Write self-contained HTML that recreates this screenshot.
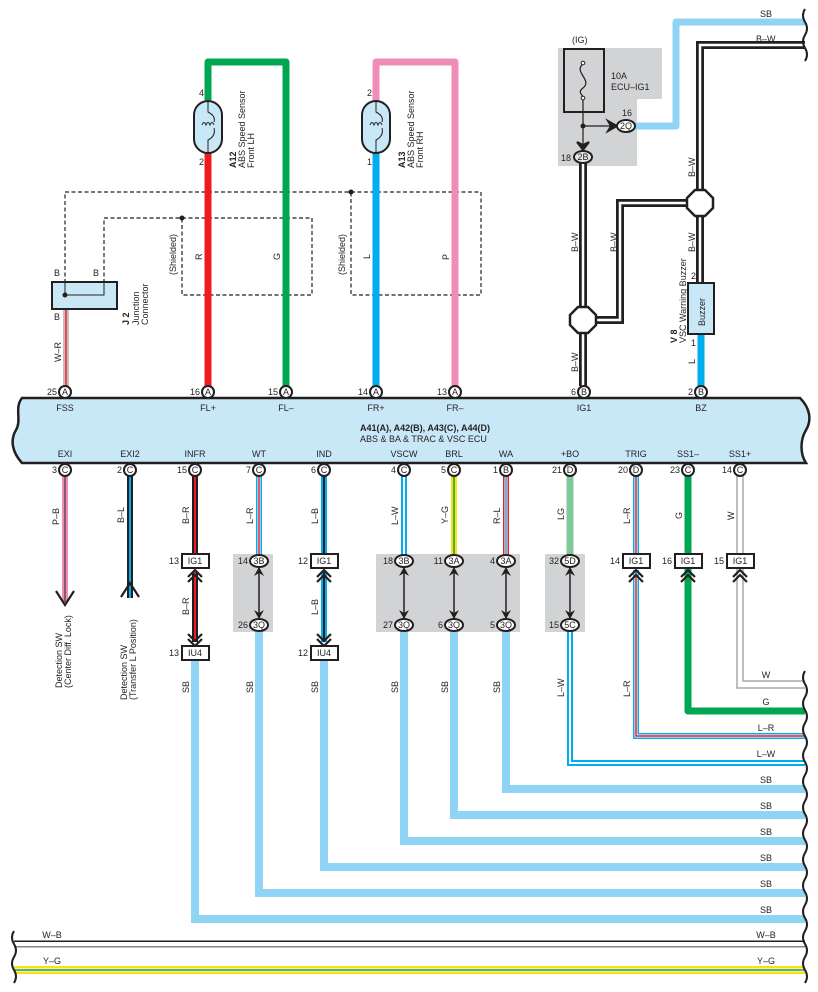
<!DOCTYPE html>
<html><head><meta charset="utf-8"><style>
html,body{margin:0;padding:0;background:#fff;}
svg{display:block;font-family:"Liberation Sans",sans-serif;}
text{font-size:9px;fill:#231f20;}
</style></head><body>
<svg width="818" height="992" viewBox="0 0 818 992" xmlns="http://www.w3.org/2000/svg">
<defs>
<path id="grn" d="M286 392 V62 H208 V100" fill="none"/>
<path id="pnk" d="M455 392 V62 H376 V100" fill="none"/>
<path id="sbTop" d="M634 126 H676 V22 H805" fill="none"/>
<path id="bwTop" d="M700 190 V45 H805" fill="none"/>
<path id="bwA" d="M583 163 V386" fill="none"/>
<path id="bwB" d="M595 320 H620 V203 H688" fill="none"/>
<path id="bwC" d="M700 214 V282" fill="none"/>
<path id="wr" d="M66 309 V386" fill="none"/>
<path id="exi" d="M65 476 V602" fill="none"/>
<path id="exi2" d="M130 476 V598" fill="none"/>
<path id="infr1" d="M195 476 V554" fill="none"/>
<path id="infr2" d="M195 572 V642" fill="none"/>
<path id="wt1" d="M259 476 V555" fill="none"/>
<path id="ind1" d="M324 476 V554" fill="none"/>
<path id="ind2" d="M324 572 V642" fill="none"/>
<path id="vscw1" d="M404 476 V555" fill="none"/>
<path id="brl1" d="M454 476 V555" fill="none"/>
<path id="wa1" d="M506 476 V555" fill="none"/>
<path id="bo2" d="M570 630 V763 H805" fill="none"/>
<path id="trig1" d="M636 476 V554" fill="none"/>
<path id="trig2" d="M636 570 V736 H805" fill="none"/>
<path id="wb" d="M14 944 H805" fill="none"/>
<path id="yg" d="M14 970 H805" fill="none"/>
</defs>

<path d="M558 48 H662 V99 H637 V166 H558 Z" fill="#d1d3d4"/>
<rect x="233" y="554" width="40" height="78" fill="#d1d3d4"/>
<rect x="376" y="554" width="144" height="78" fill="#d1d3d4"/>
<rect x="545" y="554" width="40" height="78" fill="#d1d3d4"/>

<g fill="none" stroke="#231f20" stroke-width="1.2" stroke-dasharray="4,2.5">
<path d="M65 283 V192 H481 V295 H351 V192"/>
<path d="M104 283 V218 H312 V295 H182 V218"/>
</g>
<circle cx="351" cy="192" r="2.5" fill="#231f20"/>
<circle cx="182" cy="218" r="2.5" fill="#231f20"/>

<use href="#grn" stroke="#00a651" stroke-width="7" stroke-linejoin="round"/>
<path d="M208 153 V386" stroke="#ed1c24" stroke-width="7"/>
<use href="#pnk" stroke="#f08cb8" stroke-width="7" stroke-linejoin="round"/>
<path d="M376 153 V386" stroke="#00aeef" stroke-width="7"/>

<g fill="#c8e8f8" stroke="#231f20" stroke-width="2">
<rect x="194" y="101" width="28" height="52" rx="14"/>
<rect x="362" y="101" width="28" height="52" rx="14"/>
</g>
<g fill="none" stroke="#231f20" stroke-width="1">
<path d="M208 101 V112 Q216 116 214 122 M202 125 q2 -5 4 0 q2 -5 4 0 q2 -5 4 0 M214 128 Q216 136 208 140 V153"/>
<path d="M376 101 V112 Q384 116 382 122 M370 125 q2 -5 4 0 q2 -5 4 0 q2 -5 4 0 M382 128 Q384 136 376 140 V153"/>
</g>
<text x="199" y="96">4</text><text x="199" y="165">2</text>
<text x="367" y="96">2</text><text x="367" y="165">1</text>
<g transform="translate(236,168) rotate(-90)"><text x="0" y="0" font-weight="bold">A12</text></g>
<g transform="translate(245,168) rotate(-90)"><text x="0" y="0">ABS Speed Sensor</text></g>
<g transform="translate(254,168) rotate(-90)"><text x="0" y="0">Front LH</text></g>
<g transform="translate(405,168) rotate(-90)"><text x="0" y="0" font-weight="bold">A13</text></g>
<g transform="translate(414,168) rotate(-90)"><text x="0" y="0">ABS Speed Sensor</text></g>
<g transform="translate(423,168) rotate(-90)"><text x="0" y="0">Front RH</text></g>
<g transform="translate(176,275) rotate(-90)"><text>(Shielded)</text></g>
<g transform="translate(345,275) rotate(-90)"><text>(Shielded)</text></g>
<g transform="translate(202,260) rotate(-90)"><text>R</text></g>
<g transform="translate(280,260) rotate(-90)"><text>G</text></g>
<g transform="translate(370,259) rotate(-90)"><text>L</text></g>
<g transform="translate(449,260) rotate(-90)"><text>P</text></g>

<use href="#wr" stroke="#808285" stroke-width="5"/>
<use href="#wr" stroke="#fff" stroke-width="3"/>
<use href="#wr" stroke="#ed1c24" stroke-width="1.6"/>
<rect x="52" y="282" width="65" height="27" fill="#c8e8f8" stroke="#231f20" stroke-width="2"/>
<path d="M65 282 V295 H104 V282" fill="none" stroke="#231f20" stroke-width="1"/>
<circle cx="65" cy="295" r="2.5" fill="#231f20"/>
<text x="54" y="276">B</text><text x="93" y="276">B</text><text x="54" y="320">B</text>
<g transform="translate(61,362) rotate(-90)"><text>W–R</text></g>
<g transform="translate(129,325) rotate(-90)"><text font-weight="bold">J 2</text></g>
<g transform="translate(139,325) rotate(-90)"><text>Junction</text></g>
<g transform="translate(148,325) rotate(-90)"><text>Connector</text></g>

<use href="#sbTop" stroke="#8fd3f5" stroke-width="7" stroke-linejoin="round"/>
<g stroke-linejoin="miter">
<use href="#bwTop" stroke="#231f20" stroke-width="8"/><use href="#bwTop" stroke="#fff" stroke-width="2.5"/>
<use href="#bwA" stroke="#231f20" stroke-width="8"/><use href="#bwA" stroke="#fff" stroke-width="2.5"/>
<use href="#bwB" stroke="#231f20" stroke-width="8"/><use href="#bwB" stroke="#fff" stroke-width="2.5"/>
<use href="#bwC" stroke="#231f20" stroke-width="8"/><use href="#bwC" stroke="#fff" stroke-width="2.5"/>
</g>
<rect x="564" y="49" width="40" height="63" fill="none" stroke="#231f20" stroke-width="2"/>
<path d="M583 64 C573 72 593 80 583 88 C576 93 585 96 583 98" fill="none" stroke="#231f20" stroke-width="1.2"/>
<circle cx="583" cy="63" r="1.8" fill="#fff" stroke="#231f20"/><circle cx="583" cy="98" r="1.8" fill="#fff" stroke="#231f20"/>
<path d="M583 100 V145 M583 126 H612" stroke="#231f20" stroke-width="1.2"/>
<circle cx="583" cy="126" r="2.5" fill="#231f20"/>
<path d="M577 142 L583 150 L589 142 L583 145 Z" fill="#231f20" stroke="#231f20" stroke-width="2"/>
<path d="M608 121 L617 126 L608 131 L611 126 Z" fill="#231f20" stroke="#231f20" stroke-width="2"/>
<ellipse cx="626" cy="126" rx="9" ry="6" fill="#fff" stroke="#231f20" stroke-width="2"/>
<text x="626" y="129" text-anchor="middle" font-size="8">2Q</text>
<text x="622" y="116">16</text>
<ellipse cx="583" cy="157" rx="9" ry="6" fill="#e6e7e8" stroke="#231f20" stroke-width="2"/>
<text x="583" y="160" text-anchor="middle" font-size="8">2B</text>
<text x="561" y="161">18</text>
<text x="572" y="43">(IG)</text>
<text x="611" y="79">10A</text><text x="611" y="90">ECU–IG1</text>
<polygon points="578,307 588,307 596,315 596,325 588,333 578,333 570,325 570,315" fill="#fff" stroke="#231f20" stroke-width="2.5"/>
<polygon points="695,190 705,190 713,198 713,208 705,216 695,216 687,208 687,198" fill="#fff" stroke="#231f20" stroke-width="2.5"/>
<path d="M701 334 V386" stroke="#00aeef" stroke-width="7"/>
<rect x="688" y="283" width="26" height="51" fill="#c8e8f8" stroke="#231f20" stroke-width="2"/>
<g transform="translate(705,326) rotate(-90)"><text>Buzzer</text></g>
<text x="691" y="279">2</text><text x="691" y="346">1</text>
<g transform="translate(677,343) rotate(-90)"><text font-weight="bold">V 8</text></g>
<g transform="translate(686,343) rotate(-90)"><text>VSC Warning Buzzer</text></g>
<g transform="translate(695,364) rotate(-90)"><text>L</text></g>
<g transform="translate(578,252) rotate(-90)"><text>B–W</text></g>
<g transform="translate(578,372) rotate(-90)"><text>B–W</text></g>
<g transform="translate(617,252) rotate(-90)"><text>B–W</text></g>
<g transform="translate(695,177) rotate(-90)"><text>B–W</text></g>
<g transform="translate(695,252) rotate(-90)"><text>B–W</text></g>
<text x="760" y="17">SB</text><text x="756" y="42">B–W</text>

<path d="M22 398 H800 C810 408 812 420 806 430 C800 440 800 454 806 463 H22 C12 452 10 440 16 430 C22 420 14 408 22 398 Z" fill="#c8e8f8" stroke="#231f20" stroke-width="2.5"/>
<g text-anchor="middle">
<text x="65" y="411">FSS</text><text x="208" y="411">FL+</text><text x="286" y="411">FL–</text>
<text x="376" y="411">FR+</text><text x="455" y="411">FR–</text><text x="584" y="411">IG1</text><text x="701" y="411">BZ</text>
<text x="65" y="457">EXI</text><text x="130" y="457">EXI2</text><text x="195" y="457">INFR</text><text x="259" y="457">WT</text>
<text x="324" y="457">IND</text><text x="404" y="457">VSCW</text><text x="454" y="457">BRL</text><text x="506" y="457">WA</text>
<text x="570" y="457">+BO</text><text x="636" y="457">TRIG</text><text x="688" y="457">SS1–</text><text x="740" y="457">SS1+</text>
</g>
<text x="360" y="431" font-weight="bold">A41(A), A42(B), A43(C), A44(D)</text>
<text x="360" y="442">ABS &amp; BA &amp; TRAC &amp; VSC ECU</text>

<use href="#exi" stroke="#f08cb8" stroke-width="6"/><use href="#exi" stroke="#231f20" stroke-width="1"/>
<path d="M56 591 L65 605 L74 591" fill="none" stroke="#231f20" stroke-width="2.2"/>
<use href="#exi2" stroke="#231f20" stroke-width="6"/><use href="#exi2" stroke="#00aeef" stroke-width="2"/>
<path d="M121 597 L130 583 L139 597" fill="none" stroke="#231f20" stroke-width="2.2"/>

<use href="#infr1" stroke="#231f20" stroke-width="6"/><use href="#infr1" stroke="#ed1c24" stroke-width="2"/>
<use href="#infr2" stroke="#231f20" stroke-width="6"/><use href="#infr2" stroke="#ed1c24" stroke-width="2"/>
<use href="#ind1" stroke="#00aeef" stroke-width="6"/><use href="#ind1" stroke="#231f20" stroke-width="2"/>
<use href="#ind2" stroke="#00aeef" stroke-width="6"/><use href="#ind2" stroke="#231f20" stroke-width="2"/>
<use href="#wt1" stroke="#00aeef" stroke-width="6"/><use href="#wt1" stroke="#fff" stroke-width="3"/><use href="#wt1" stroke="#ed1c24" stroke-width="1.5"/>
<use href="#vscw1" stroke="#00aeef" stroke-width="6"/><use href="#vscw1" stroke="#fff" stroke-width="2"/>
<use href="#brl1" stroke="#ffde17" stroke-width="6"/><use href="#brl1" stroke="#00a651" stroke-width="1.5"/>
<use href="#wa1" stroke="#ed1c24" stroke-width="6"/><use href="#wa1" stroke="#fff" stroke-width="3"/><use href="#wa1" stroke="#00aeef" stroke-width="1.5"/>
<path d="M570 476 V555" stroke="#80c99b" stroke-width="7"/>
<use href="#trig1" stroke="#00aeef" stroke-width="6"/><use href="#trig1" stroke="#fff" stroke-width="3"/><use href="#trig1" stroke="#ed1c24" stroke-width="1.5"/>
<use href="#trig2" stroke="#00aeef" stroke-width="6"/><use href="#trig2" stroke="#fff" stroke-width="3"/><use href="#trig2" stroke="#ed1c24" stroke-width="1.5"/>
<path d="M688 476 V711 H805" fill="none" stroke="#00a651" stroke-width="7" stroke-linejoin="round"/>
<path d="M737 476 V688 H805 M743 476 V681 H805" fill="none" stroke="#a7a9ac" stroke-width="1.5"/>
<use href="#bo2" stroke="#00aeef" stroke-width="6"/><use href="#bo2" stroke="#fff" stroke-width="2"/>

<g fill="none" stroke="#8fd3f5" stroke-width="8">
<path d="M195 658 V919 H805"/>
<path d="M259 630 V893 H805"/>
<path d="M324 658 V867 H805"/>
<path d="M404 630 V841 H805"/>
<path d="M454 630 V815 H805"/>
<path d="M506 630 V789 H805"/>
</g>
<use href="#wb" stroke="#231f20" stroke-width="7"/><use href="#wb" stroke="#fff" stroke-width="4"/>
<path d="M14 947 H805" stroke="#a7a9ac" stroke-width="1.5"/>
<use href="#yg" stroke="#ffde17" stroke-width="8"/><use href="#yg" stroke="#fff" stroke-width="3"/><use href="#yg" stroke="#00a651" stroke-width="1.5"/>

<g stroke="#231f20" stroke-width="1.5">
<path d="M259 568 V618 M404 568 V618 M454 568 V618 M506 568 V618 M570 568 V618"/>
</g>
<g fill="#231f20">
<path d="M254 576 L259 567 L264 576 L259 573Z M254 610 L259 619 L264 610 L259 613Z"/>
<path d="M399 576 L404 567 L409 576 L404 573Z M399 610 L404 619 L409 610 L404 613Z"/>
<path d="M449 576 L454 567 L459 576 L454 573Z M449 610 L454 619 L459 610 L454 613Z"/>
<path d="M501 576 L506 567 L511 576 L506 573Z M501 610 L506 619 L511 610 L506 613Z"/>
<path d="M565 576 L570 567 L575 576 L570 573Z M565 610 L570 619 L575 610 L570 613Z"/>
</g>
<g fill="none" stroke="#231f20" stroke-width="2.2">
<path d="M188 577 L195 570 L202 577 M188 582 L195 575 L202 582"/>
<path d="M188 634 L195 641 L202 634 M188 639 L195 646 L202 639"/>
<path d="M317 577 L324 570 L331 577 M317 582 L324 575 L331 582"/>
<path d="M317 634 L324 641 L331 634 M317 639 L324 646 L331 639"/>
<path d="M629 577 L636 570 L643 577 M629 582 L636 575 L643 582"/>
<path d="M681 577 L688 570 L695 577 M681 582 L688 575 L695 582"/>
<path d="M733 577 L740 570 L747 577 M733 582 L740 575 L747 582"/>
</g>
<g fill="#fff" stroke="#231f20" stroke-width="2">
<rect x="182" y="554" width="27" height="14"/><rect x="182" y="646" width="27" height="14"/>
<rect x="311" y="554" width="27" height="14"/><rect x="311" y="646" width="27" height="14"/>
<rect x="623" y="554" width="27" height="14"/><rect x="675" y="554" width="27" height="14"/><rect x="727" y="554" width="27" height="14"/>
</g>
<g text-anchor="middle">
<text x="195" y="564">IG1</text><text x="195" y="656">IU4</text>
<text x="324" y="564">IG1</text><text x="324" y="656">IU4</text>
<text x="636" y="564">IG1</text><text x="688" y="564">IG1</text><text x="740" y="564">IG1</text>
</g>
<g text-anchor="end">
<text x="179" y="564">13</text><text x="179" y="656">13</text><text x="308" y="564">12</text><text x="308" y="656">12</text>
<text x="620" y="564">14</text><text x="672" y="564">16</text><text x="724" y="564">15</text>
<text x="248" y="564">14</text><text x="248" y="628">26</text>
<text x="393" y="564">18</text><text x="393" y="628">27</text>
<text x="443" y="564">11</text><text x="443" y="628">6</text>
<text x="495" y="564">4</text><text x="495" y="628">5</text>
<text x="559" y="564">32</text><text x="559" y="628">15</text>
</g>
<g fill="#fff" stroke="#231f20" stroke-width="2">
<ellipse cx="259" cy="561" rx="9" ry="6"/><ellipse cx="259" cy="625" rx="9" ry="6"/>
<ellipse cx="404" cy="561" rx="9" ry="6"/><ellipse cx="404" cy="625" rx="9" ry="6"/>
<ellipse cx="454" cy="561" rx="9" ry="6"/><ellipse cx="454" cy="625" rx="9" ry="6"/>
<ellipse cx="506" cy="561" rx="9" ry="6"/><ellipse cx="506" cy="625" rx="9" ry="6"/>
<ellipse cx="570" cy="561" rx="9" ry="6"/><ellipse cx="570" cy="625" rx="9" ry="6"/>
</g>
<g text-anchor="middle">
<text x="259" y="564" font-size="8">3B</text><text x="259" y="628" font-size="8">3Q</text>
<text x="404" y="564" font-size="8">3B</text><text x="404" y="628" font-size="8">3Q</text>
<text x="454" y="564" font-size="8">3A</text><text x="454" y="628" font-size="8">3Q</text>
<text x="506" y="564" font-size="8">3A</text><text x="506" y="628" font-size="8">3Q</text>
<text x="570" y="564" font-size="8">5D</text><text x="570" y="628" font-size="8">5C</text>
</g>

<g fill="#fff" stroke="#231f20" stroke-width="2">
<circle cx="65" cy="392" r="6"/><circle cx="208" cy="392" r="6"/><circle cx="286" cy="392" r="6"/>
<circle cx="376" cy="392" r="6"/><circle cx="455" cy="392" r="6"/><circle cx="584" cy="392" r="6"/><circle cx="701" cy="392" r="6"/>
<circle cx="65" cy="470" r="6"/><circle cx="130" cy="470" r="6"/><circle cx="195" cy="470" r="6"/><circle cx="259" cy="470" r="6"/>
<circle cx="324" cy="470" r="6"/><circle cx="404" cy="470" r="6"/><circle cx="454" cy="470" r="6"/><circle cx="506" cy="470" r="6"/>
<circle cx="570" cy="470" r="6"/><circle cx="636" cy="470" r="6"/><circle cx="688" cy="470" r="6"/><circle cx="740" cy="470" r="6"/>
</g>
<g text-anchor="middle">
<text x="65" y="395" font-size="8">A</text><text x="208" y="395" font-size="8">A</text><text x="286" y="395" font-size="8">A</text>
<text x="376" y="395" font-size="8">A</text><text x="455" y="395" font-size="8">A</text><text x="584" y="395" font-size="8">B</text><text x="701" y="395" font-size="8">B</text>
<text x="65" y="473" font-size="8">C</text><text x="130" y="473" font-size="8">C</text><text x="195" y="473" font-size="8">C</text><text x="259" y="473" font-size="8">C</text>
<text x="324" y="473" font-size="8">C</text><text x="404" y="473" font-size="8">C</text><text x="454" y="473" font-size="8">C</text><text x="506" y="473" font-size="8">B</text>
<text x="570" y="473" font-size="8">D</text><text x="636" y="473" font-size="8">D</text><text x="688" y="473" font-size="8">C</text><text x="740" y="473" font-size="8">C</text>
</g>
<g text-anchor="end">
<text x="57" y="395">25</text><text x="200" y="395">16</text><text x="278" y="395">15</text><text x="368" y="395">14</text>
<text x="447" y="395">13</text><text x="576" y="395">6</text><text x="693" y="395">2</text>
<text x="57" y="473">3</text><text x="122" y="473">2</text><text x="187" y="473">15</text><text x="251" y="473">7</text>
<text x="316" y="473">6</text><text x="396" y="473">4</text><text x="446" y="473">5</text><text x="498" y="473">1</text>
<text x="562" y="473">21</text><text x="628" y="473">20</text><text x="680" y="473">23</text><text x="732" y="473">14</text>
</g>

<g transform="translate(59,525) rotate(-90)"><text>P–B</text></g>
<g transform="translate(124,523) rotate(-90)"><text>B–L</text></g>
<g transform="translate(189,524) rotate(-90)"><text>B–R</text></g>
<g transform="translate(253,524) rotate(-90)"><text>L–R</text></g>
<g transform="translate(318,524) rotate(-90)"><text>L–B</text></g>
<g transform="translate(398,525) rotate(-90)"><text>L–W</text></g>
<g transform="translate(448,524) rotate(-90)"><text>Y–G</text></g>
<g transform="translate(500,524) rotate(-90)"><text>R–L</text></g>
<g transform="translate(564,520) rotate(-90)"><text>LG</text></g>
<g transform="translate(630,524) rotate(-90)"><text>L–R</text></g>
<g transform="translate(682,519) rotate(-90)"><text>G</text></g>
<g transform="translate(734,520) rotate(-90)"><text>W</text></g>
<g transform="translate(189,615) rotate(-90)"><text>B–R</text></g>
<g transform="translate(318,615) rotate(-90)"><text>L–B</text></g>
<g transform="translate(189,693) rotate(-90)"><text>SB</text></g>
<g transform="translate(253,693) rotate(-90)"><text>SB</text></g>
<g transform="translate(318,693) rotate(-90)"><text>SB</text></g>
<g transform="translate(398,693) rotate(-90)"><text>SB</text></g>
<g transform="translate(448,693) rotate(-90)"><text>SB</text></g>
<g transform="translate(500,693) rotate(-90)"><text>SB</text></g>
<g transform="translate(564,697) rotate(-90)"><text>L–W</text></g>
<g transform="translate(630,697) rotate(-90)"><text>L–R</text></g>
<g transform="translate(62,688) rotate(-90)"><text>Detection SW</text></g>
<g transform="translate(71,688) rotate(-90)"><text>(Center Diff.  Lock)</text></g>
<g transform="translate(127,700) rotate(-90)"><text>Detection SW</text></g>
<g transform="translate(136,700) rotate(-90)"><text>(Transfer L Position)</text></g>

<g text-anchor="middle">
<text x="766" y="678">W</text><text x="766" y="705">G</text><text x="766" y="731">L–R</text><text x="766" y="757">L–W</text>
<text x="766" y="783">SB</text><text x="766" y="809">SB</text><text x="766" y="835">SB</text><text x="766" y="861">SB</text>
<text x="766" y="887">SB</text><text x="766" y="913">SB</text><text x="766" y="938">W–B</text><text x="766" y="964">Y–G</text>
<text x="52" y="938">W–B</text><text x="52" y="964">Y–G</text>
</g>

<path fill="none" stroke="#231f20" stroke-width="2" d="M805 9 q-4 6.5 0 13 q4 6.5 0 13 q-4 6.5 0 13 q4 6.5 0 13"/>
<path fill="none" stroke="#231f20" stroke-width="2" d="M805 671 q-4 6.5 0 13 q4 6.5 0 13 q-4 6.5 0 13 q4 6.5 0 13 q-4 6.5 0 13 q4 6.5 0 13 q-4 6.5 0 13 q4 6.5 0 13 q-4 6.5 0 13 q4 6.5 0 13 q-4 6.5 0 13 q4 6.5 0 13 q-4 6.5 0 13 q4 6.5 0 13 q-4 6.5 0 13 q4 6.5 0 13 q-4 6.5 0 13 q4 6.5 0 13 q-4 6.5 0 13 q4 6.5 0 13 q-4 6.5 0 13 q4 6.5 0 13 q-4 6.5 0 13 q4 6.5 0 13"/>
<path fill="none" stroke="#231f20" stroke-width="2" d="M14 931 q-4 6.5 0 13 q4 6.5 0 13 q-4 6.5 0 13 q4 6.5 0 13"/>
</svg>
</body></html>
